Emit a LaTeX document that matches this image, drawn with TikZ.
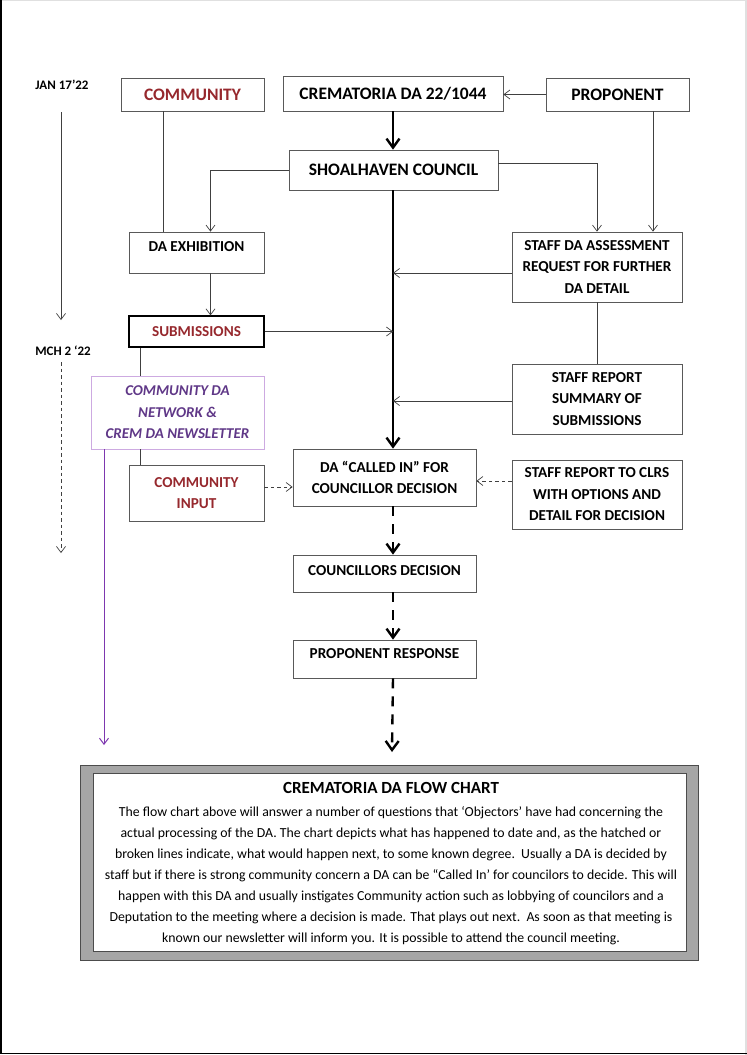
\documentclass[tikz,border=0pt]{standalone}
\usepackage{fontspec}
\setmainfont{Carlito}
\usepackage{xcolor}
\usepackage{tikz}
\usetikzlibrary{arrows.meta}
\definecolor{commred}{RGB}{150,40,45}
\definecolor{netpurple}{RGB}{95,55,135}
\definecolor{netline}{RGB}{205,170,225}
\definecolor{arrpurple}{RGB}{125,55,175}
\begin{document}
\begin{tikzpicture}[x=1pt,y=-1pt,
    flowbox/.style={draw=black!65,line width=0.7pt,inner sep=0pt,align=center,font=\bfseries\fontsize{15.2}{21.5}\selectfont},
    topbox/.style={flowbox,font=\bfseries\fontsize{17.5}{20}\selectfont},
    datelabel/.style={font=\bfseries\fontsize{13}{15}\selectfont},
    plain/.style={draw=black!75,line width=0.7pt},
    arr/.style={plain,-{Straight Barb[length=6pt,width=9pt]}},
    dasharr/.style={arr,dash pattern=on 3.5pt off 3pt},
    spine/.style={line width=2.4pt,-{Straight Barb[length=9pt,width=13pt]}},
    spinedash/.style={spine,dash pattern=on 10pt off 8pt}]
    \useasboundingbox (0,0) rectangle (747,1055);
    \draw[black!12,line width=1pt] (0,0.5) -- (747,0.5);
    \draw[black!12,line width=1.5pt] (746,0) -- (746,1055);
    \draw[black,line width=1.5pt] (0.75,0) -- (0.75,1053.5) -- (747,1053.5);
    \node[datelabel] (jan) at (62,85) {JAN 17’22};
    \node[datelabel] (mch) at (63,351) {MCH 2 ‘22};
    \coordinate (jantop) at (61,112);
    \coordinate (janend) at (61,320);
    \coordinate (mchtop) at (61,362);
    \coordinate (mchend) at (61,553);
    \draw[arr] (jantop) -- (janend);
    \draw[dasharr] (mchtop) -- (mchend);
    \node[topbox,text=commred,minimum width=143,minimum height=33] (comm) at (192.5,94.5) {COMMUNITY};
    \node[topbox,minimum width=220,minimum height=35] (crem) at (393,93.5) {CREMATORIA DA 22/1044};
    \node[topbox,minimum width=143,minimum height=33] (prop) at (617.5,94.5) {PROPONENT};
    \node[topbox,minimum width=209,minimum height=40] (shoal) at (393.5,170) {SHOALHAVEN COUNCIL};
    \node[flowbox,minimum width=135,minimum height=41] (exh) at (196.5,252.5) {DA EXHIBITION\\[-10pt]\mbox{}};
    \node[flowbox,minimum width=170,minimum height=70] (asst) at (597,267) {STAFF DA ASSESSMENT\\REQUEST FOR FURTHER\\DA DETAIL};
    \node[flowbox,draw=black,line width=1.3pt,text=commred,minimum width=135,minimum height=31] (subm) at (196.5,331.5) {SUBMISSIONS};
    \node[flowbox,minimum width=170,minimum height=70] (srep) at (597,399) {STAFF REPORT\\SUMMARY OF\\SUBMISSIONS};
    \node[flowbox,draw=netline,text=netpurple,font=\bfseries\itshape\fontsize{15}{21.5}\selectfont,minimum width=173,minimum height=73] (net) at (177.5,412.5) {COMMUNITY DA\\NETWORK \&\\CREM DA NEWSLETTER};
    \node[flowbox,text=commred,minimum width=135,minimum height=56] (cinput) at (196.5,493) {COMMUNITY\\INPUT};
    \node[flowbox,minimum width=183,minimum height=57] (called) at (384.5,477.5) {DA “CALLED IN” FOR\\COUNCILLOR DECISION};
    \node[flowbox,minimum width=170,minimum height=69] (clrs) at (597,494.5) {STAFF REPORT TO CLRS\\WITH OPTIONS AND\\DETAIL FOR DECISION};
    \node[flowbox,minimum width=183,minimum height=37] (cdec) at (384.5,573.5) {COUNCILLORS DECISION\\[-15pt]\mbox{}};
    \node[flowbox,minimum width=183,minimum height=38] (presp) at (384.5,659) {PROPONENT RESPONSE\\[-10pt]\mbox{}};
    \coordinate (newsend) at (104,745);
    \coordinate (flowend) at (392,752);
    \draw[arr] (prop.west) -- (prop.west -| crem.east);
    \draw[spine] (crem.south) -- (crem.south |- shoal.north);
    \draw[arr] (shoal.west) -| ([xshift=14pt]exh.north);
    \draw[arr] ([yshift=7pt]shoal.east) -| (asst.north);
    \draw[arr] ([xshift=35.5pt]prop.south) -- ([xshift=35.5pt]prop.south |- asst.north);
    \draw[plain] ([xshift=-29.5pt]comm.south) -- ([xshift=-29.5pt]comm.south |- exh.north);
    \draw[arr] ([xshift=14pt]exh.south) -- ([xshift=14pt]exh.south |- subm.north);
    \draw[spine] (crem.south |- shoal.south) -- (crem.south |- called.north);
    \draw[arr] ([yshift=-6pt]asst.west) -- ([yshift=-6pt]asst.west -| crem.south);
    \draw[arr] (subm.east) -- (subm.east -| crem.south);
    \draw[plain] (asst.south) -- (srep.north);
    \draw[arr] ([yshift=-2pt]srep.west) -- ([yshift=-2pt]srep.west -| crem.south);
    \draw[plain] ([xshift=-56.5pt]subm.south) -- ([xshift=-56.5pt]subm.south |- net.north);
    \draw[plain] ([xshift=-37.5pt]net.south) -- ([xshift=-37.5pt]net.south |- cinput.north);
    \draw[arrpurple,line width=1pt,-{Straight Barb[length=6pt,width=9pt]}] ([xshift=-73.5pt]net.south) -- (newsend);
    \draw[dasharr] ([yshift=6pt]cinput.east) -- ([yshift=6pt]cinput.east -| called.west);
    \draw[dasharr] ([yshift=13.5pt]clrs.west) -- ([yshift=13.5pt]clrs.west -| called.east);
    \draw[spinedash] (called.south -| crem.south) -- (cdec.north -| crem.south);
    \draw[spinedash] (cdec.south -| crem.south) -- (presp.north -| crem.south);
    \draw[spinedash] (presp.south -| crem.south) -- (flowend);
    \node[draw=black!70,fill=black!35,line width=0.8pt,minimum width=618,minimum height=195,inner sep=0pt] (frame) at (389,862.5) {};
    \node[draw=black!70,fill=white,line width=0.8pt,minimum width=593,minimum height=178,inner sep=0pt] (note) at (389.5,862) {};
    \node[font=\bfseries\fontsize{17}{20}\selectfont] (notetitle) at (391,788) {CREMATORIA DA FLOW CHART};
    \node[align=center,font=\fontsize{13.8}{21}\selectfont] (notetext) at (391,876) {The flow chart above will answer a number of questions that ‘Objectors’ have had concerning the\\actual processing of the DA. The chart depicts what has happened to date and, as the hatched or\\broken lines indicate, what would happen next, to some known degree.\ \ Usually a DA is decided by\\staff but if there is strong community concern a DA can be “Called In’ for councilors to decide. This will\\happen with this DA and usually instigates Community action such as lobbying of councilors and a\\Deputation to the meeting where a decision is made. That plays out next.\ \ As soon as that meeting is\\known our newsletter will inform you. It is possible to attend the council meeting.};
\end{tikzpicture}
\end{document}
